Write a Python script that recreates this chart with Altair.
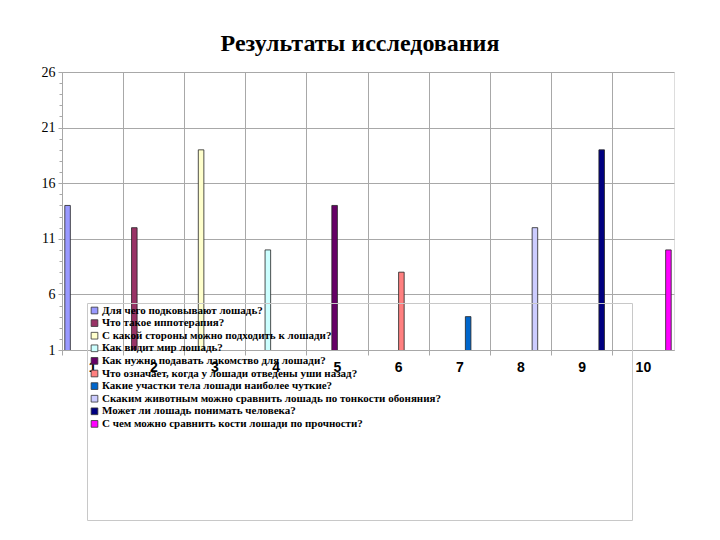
import altair as alt
import pandas as pd

categories = [str(i) for i in range(1, 11)]
questions = [
    "Для чего подковывают лошадь?",
    "Что такое иппотерапия?",
    "С какой стороны можно подходить к лошади?",
    "Как видит мир лошадь?",
    "Как нужно подавать лакомство для лошади?",
    "Что означает, когда у лошади отведены уши назад?",
    "Какие участки тела лошади наиболее чуткие?",
    "Скаким животным можно сравнить лошадь по тонкости обоняния?",
    "Может ли лошадь понимать человека?",
    "С чем можно сравнить кости лошади по прочности?",
]
values = [14, 12, 19, 10, 14, 8, 4, 12, 19, 10]
colors = ["#9999FF", "#993366", "#FFFFCC", "#CCFFFF", "#660066",
          "#FF8080", "#0066CC", "#CCCCFF", "#000080", "#FF00FF"]
y_ticks = [1, 6, 11, 16, 21, 26]
minor_ticks = list(range(1, 27))

df = pd.DataFrame({"cat": categories, "q": questions, "v": values})
minor_df = pd.DataFrame({"m": minor_ticks})

GRID = "#a8a8a8"
y_scale = alt.Scale(domain=[1, 26], nice=False, zero=False)

# invisible (white) legend title used only to give the legend frame its size
legend_title = ["M" * 30] + ["\u00a0"] * 5

bars = alt.Chart(df).mark_bar(stroke="#222222", strokeWidth=0.8, clip=True).encode(
    x=alt.X("cat:N", sort=categories,
            scale=alt.Scale(domain=categories, paddingInner=0, paddingOuter=0),
            axis=alt.Axis(title=None, labelAngle=0, bandPosition=0,
                          grid=True, gridColor=GRID, tickColor=GRID, tickSize=5,
                          domainColor=GRID, labelFont="Liberation Sans",
                          labelFontWeight="bold", labelFontSize=14, labelColor="#000000",
                          labelPadding=5, labelOverlap=False)),
    xOffset=alt.XOffset("q:N", sort=questions,
                        scale=alt.Scale(domain=questions, paddingInner=0, paddingOuter=0.5)),
    y=alt.Y("v:Q", scale=y_scale,
            axis=alt.Axis(title=None, values=y_ticks, grid=True, gridColor=GRID,
                          tickColor=GRID, tickSize=4, domainColor=GRID,
                          labelFont="Liberation Serif", labelFontSize=14,
                          labelColor="#000000", labelPadding=3, orient="left")),
    color=alt.Color("q:N", sort=questions,
                    scale=alt.Scale(domain=questions, range=colors),
                    legend=alt.Legend(orient="none", legendX=25, legendY=231,
                                      direction="vertical", title=legend_title,
                                      titleOrient="bottom", titleFontSize=20.3,
                                      titleColor="white", titleFont="Liberation Serif",
                                      titleFontWeight="normal",
                                      titleLineHeight=13.7, titlePadding=0,
                                      titleLimit=2000,
                                      strokeColor="#c8c8c8", padding=2,
                                      symbolType="square", symbolSize=45,
                                      symbolStrokeColor="#333333", symbolStrokeWidth=0.8,
                                      symbolOpacity=1, symbolOffset=0,
                                      labelFont="Liberation Serif", labelFontSize=11,
                                      labelFontWeight="bold", labelColor="#000000",
                                      labelLimit=700, labelOffset=2, rowPadding=0.6)),
)

minor = alt.Chart(minor_df).mark_point(opacity=0).encode(
    y=alt.Y("m:Q", scale=y_scale,
            axis=alt.Axis(title=None, values=minor_ticks, labels=False, grid=False,
                          domain=False, tickColor=GRID, tickSize=3, orient="left")),
)

chart = alt.layer(bars, minor).resolve_axis(y="independent").properties(
    width=612, height=278,
    title=alt.Title("Результаты исследования", font="Liberation Serif", fontSize=24,
                    fontWeight="bold", color="#000000", offset=9, dx=-8),
    padding={"left": 54, "top": 64, "right": 38, "bottom": 182},
    autosize=alt.AutoSizeParams(type="none"),
).configure_view(stroke=GRID).configure(background="white")

chart.save("out.html", embed_options={"renderer": "svg", "actions": False})
